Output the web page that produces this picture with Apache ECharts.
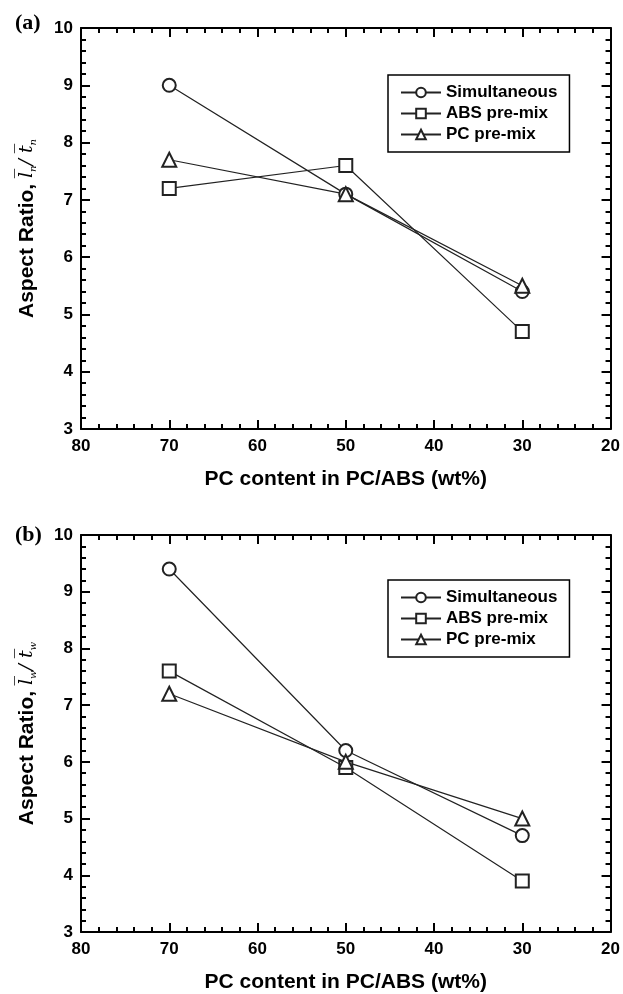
<!DOCTYPE html>
<html>
<head>
<meta charset="utf-8">
<script src="https://cdn.jsdelivr.net/npm/echarts@6/dist/echarts.min.js"></script>
<style>
html,body{margin:0;padding:0;background:#fff;}
#chart{width:623px;height:994px;}
</style>
</head>
<body>
<div id="chart"></div>
<script>
const pcContent = [70, 50, 30];
const seriesNames = ['Simultaneous', 'ABS pre-mix', 'PC pre-mix'];
const symbols = ['emptyCircle', 'emptyRect', 'emptyTriangle'];
// Panel (a): number-average aspect ratio
const aSimultaneous = [9.0, 7.1, 5.4];
const aAbsPremix = [7.2, 7.6, 4.7];
const aPcPremix = [7.7, 7.1, 5.5];
// Panel (b): weight-average aspect ratio
const bSimultaneous = [9.4, 6.2, 4.7];
const bAbsPremix = [7.6, 5.9, 3.9];
const bPcPremix = [7.2, 6.0, 5.0];
const xTicks = [80, 70, 60, 50, 40, 30, 20];
const yTicks = [3, 4, 5, 6, 7, 8, 9, 10];

const panelA = [aSimultaneous, aAbsPremix, aPcPremix];
const panelB = [bSimultaneous, bAbsPremix, bPcPremix];

const FONT = '"Liberation Sans", Arial, sans-serif';
const grids = [
  {left: 81, right: 12, top: 28, height: 401},
  {left: 81, right: 12, top: 535, height: 398}
];

function xAxes(gi) {
  const base = {
    gridIndex: gi, type: 'value', min: xTicks[xTicks.length - 1], max: xTicks[0], interval: 10, inverse: true,
    axisLine: {show: true, onZero: false, lineStyle: {color: '#000', width: 2}},
    axisTick: {show: true, inside: true, length: 9, lineStyle: {color: '#000', width: 2}},
    minorTick: {show: true, splitNumber: 5, length: 5, lineStyle: {color: '#000', width: 2}},
    splitLine: {show: false}
  };
  return [
    Object.assign({}, base, {
      position: 'bottom',
      axisLabel: {color: '#000', fontFamily: FONT, fontWeight: 'bold', fontSize: 17, margin: 9},
      name: 'PC content in PC/ABS (wt%)', nameLocation: 'middle', nameGap: 40,
      nameTextStyle: {color: '#000', fontFamily: FONT, fontWeight: 'bold', fontSize: 21}
    }),
    Object.assign({}, base, {position: 'top', axisLabel: {show: false}})
  ];
}

function yAxes(gi, sub) {
  const base = {
    gridIndex: gi, type: 'value', min: yTicks[0], max: yTicks[yTicks.length - 1], interval: 1,
    axisLine: {show: true, onZero: false, lineStyle: {color: '#000', width: 2}},
    axisTick: {show: true, inside: true, length: 9, lineStyle: {color: '#000', width: 2}},
    minorTick: {show: true, splitNumber: 5, length: 5, lineStyle: {color: '#000', width: 2}},
    splitLine: {show: false}
  };
  return [
    Object.assign({}, base, {
      position: 'left',
      axisLabel: {color: '#000', fontFamily: FONT, fontWeight: 'bold', fontSize: 17, margin: 8},
      name: '{b|Aspect Ratio, }{i|l\u0305}{s|' + sub + '}{i|/ t\u0305}{s|' + sub + '}',
      nameLocation: 'middle', nameGap: 43,
      nameTextStyle: {
        color: '#000',
        rich: {
          b: {fontFamily: FONT, fontWeight: 'bold', fontSize: 21, color: '#000'},
          i: {fontFamily: '"DejaVu Serif", serif', fontStyle: 'italic', fontSize: 19, color: '#000'},
          s: {fontFamily: '"DejaVu Serif", serif', fontStyle: 'italic', fontSize: 10, color: '#000', verticalAlign: 'bottom', padding: [6, 0, 0, 0]}
        }
      }
    }),
    Object.assign({}, base, {position: 'right', axisLabel: {show: false}})
  ];
}

const xAxis = [...xAxes(0), ...xAxes(1)];
const yAxis = [...yAxes(0, 'n'), ...yAxes(1, 'w')];

function makeSeries(panel, gi) {
  return panel.map((vals, i) => ({
    name: seriesNames[i],
    type: 'line',
    xAxisIndex: gi * 2, yAxisIndex: gi * 2,
    data: pcContent.map((x, j) => [x, vals[j]]),
    symbol: symbols[i],
    symbolSize: i === 2 ? 14 : 13,
    showAllSymbol: true,
    lineStyle: {color: '#222', width: 1.2},
    itemStyle: {color: '#222', borderColor: '#222', borderWidth: 1.5},
    emphasis: {disabled: true},
    animation: false,
    z: 3
  }));
}

const legendBase = {
  orient: 'vertical',
  left: 388,
  borderColor: '#000', borderWidth: 1.5,
  padding: [9, 12, 9, 12],
  itemWidth: 40, itemHeight: 12, itemGap: 4,
  textStyle: {color: '#000', fontFamily: FONT, fontWeight: 'bold', fontSize: 17},
  backgroundColor: '#fff',
  selectedMode: false
};

const option = {
  animation: false,
  backgroundColor: '#fff',
  grid: grids.map(g => Object.assign({}, g, {show: false})),
  xAxis: xAxis,
  yAxis: yAxis,
  legend: [
    Object.assign({}, legendBase, {top: 75, data: seriesNames}),
    Object.assign({}, legendBase, {top: 580, data: seriesNames})
  ],
  title: [
    {text: '(a)', left: 10, top: 7, textStyle: {fontFamily: '"Liberation Serif", serif', fontWeight: 'bold', fontSize: 22, color: '#000'}},
    {text: '(b)', left: 10, top: 519, textStyle: {fontFamily: '"Liberation Serif", serif', fontWeight: 'bold', fontSize: 22, color: '#000'}}
  ],
  series: [...makeSeries(panelA, 0), ...makeSeries(panelB, 1)]
};

const chart = echarts.init(document.getElementById('chart'), null, {renderer: 'canvas'});
chart.setOption(option);
</script>
</body>
</html>
